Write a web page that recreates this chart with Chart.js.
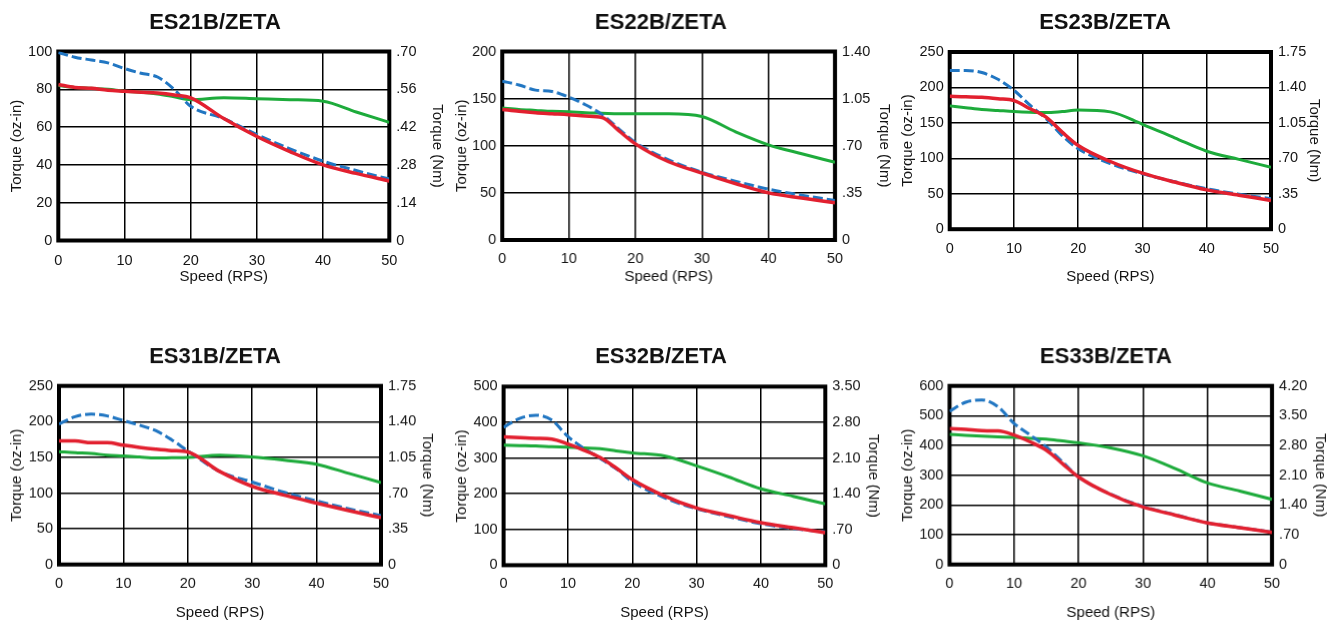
<!DOCTYPE html>
<html>
<head>
<meta charset="utf-8">
<title>ES torque curves</title>
<script src="https://cdn.jsdelivr.net/npm/chart.js@4.4.1/dist/chart.umd.min.js"></script>
<style>
  html, body { margin: 0; padding: 0; background: #fff; }
  body { width: 1339px; height: 635px; position: relative; overflow: hidden; }
  .box { position: absolute; }
</style>
</head>
<body>
<script>
// speed points (RPS) used for every curve
const speeds = [0, 2.5, 5, 7.5, 10, 12.5, 15, 17.5, 20, 25, 30, 35, 40, 45, 50];

// torque values in oz-in
const es21Blue  = [99.5, 97, 95.5, 94, 91, 88.5, 86.5, 80, 71, 64.5, 56, 48.5, 42, 37, 32.5];
const es21Red   = [82.5, 81, 80.5, 79.5, 79, 78.5, 78, 77, 75.5, 64.5, 55, 47, 40, 35.5, 31.5];
const es21Green = [82, 81, 80.5, 80, 79, 78.5, 77.5, 76, 74.5, 75.5, 75, 74.5, 73.7, 68, 62.5];

const es22Blue  = [168.5, 164.5, 159, 157.5, 151.5, 143.5, 133, 118, 103.5, 85, 72, 62.5, 54, 47.5, 42];
const es22Red   = [138.5, 136.5, 135, 134, 133, 131.5, 130, 116, 102, 83, 71, 60, 50, 44.5, 39.5];
const es22Green = [140, 138.5, 137.5, 136.5, 136, 135, 134.5, 134, 134, 134, 131, 115, 101, 91.5, 82.5];

const es23Blue  = [224, 224, 221, 211.5, 196, 175, 156, 132, 113.5, 92.5, 78, 67, 57, 49.5, 43];
const es23Red   = [187.5, 187, 186, 184, 181.5, 170, 158, 137, 118, 95.5, 79, 66.5, 55.5, 48, 40.5];
const es23Green = [174, 171.5, 169, 167.5, 166, 165, 164.5, 166, 168, 165.5, 148, 129, 110, 98.5, 87.5];

const es31Blue  = [196.5, 207, 210.5, 208, 201.5, 195, 187.5, 174.5, 159, 130, 115.5, 101, 89, 78, 68.5];
const es31Red   = [173, 173, 170.5, 170.5, 167, 164, 161.5, 159.5, 157.5, 130, 109.5, 97, 86, 75.5, 65.5];
const es31Green = [158, 156.5, 155.5, 153, 152, 150.5, 149, 149.5, 150, 153, 150.5, 146, 140.5, 127.5, 114.5];

const es32Blue  = [386, 411, 420, 406, 360, 327, 299, 270, 234, 189, 158, 136, 116, 103, 93];
const es32Red   = [359.5, 357, 355, 353, 339, 322, 301.5, 272, 240, 194, 160, 139, 119, 105, 91];
const es32Green = [336, 335, 334, 332, 330.5, 328.5, 326.5, 320, 314.5, 306, 278, 247, 214, 193, 172];

const es33Blue  = [515, 545, 553, 530, 474, 435, 395, 345, 294, 236, 195.5, 167, 140, 124, 109];
const es33Red   = [457, 454, 449.5, 449, 435, 412, 384, 339, 294, 235, 193, 166, 140, 124, 108];
const es33Green = [437, 434, 431.5, 429, 427, 424, 421, 415, 409, 392, 365, 322, 274, 247, 219];

// axis ranges and right-hand (Nm) tick labels
const ozMax  = [100, 200, 250, 250, 500, 600];
const ozStep = [20, 50, 50, 50, 100, 100];
const nmTicks = [
  [0, 0.14, 0.28, 0.42, 0.56, 0.70],
  [0, 0.35, 0.70, 1.05, 1.40],
  [0, 0.35, 0.70, 1.05, 1.40, 1.75],
  [0, 0.35, 0.70, 1.05, 1.40, 1.75],
  [0, 0.70, 1.40, 2.10, 2.80, 3.50],
  [0, 0.70, 1.40, 2.10, 2.80, 3.50, 4.20]
];
const titles = ['ES21B/ZETA', 'ES22B/ZETA', 'ES23B/ZETA', 'ES31B/ZETA', 'ES32B/ZETA', 'ES33B/ZETA'];
const blues  = [es21Blue, es22Blue, es23Blue, es31Blue, es32Blue, es33Blue];
const reds   = [es21Red, es22Red, es23Red, es31Red, es32Red, es33Red];
const greens = [es21Green, es22Green, es23Green, es31Green, es32Green, es33Green];

// where each plot sits on the page (plot rect + text centres)
const boxes = [
  {l: 58,    r: 389,    t: 51,    b: 240,   titleX: 214.7, titleY: 22.5,  ozTitleX: 17,    nmTitleX: 436.7,  tickY: 260,   xTitleY: 276.7},
  {l: 502,   r: 834,    t: 51,    b: 239.5, titleX: 660.3, titleY: 22.5,  ozTitleX: 461.7, nmTitleX: 882.7,  tickY: 258.5, xTitleY: 276.7},
  {l: 950,   r: 1271.3, t: 51.5,  b: 228.7, titleX: 1105.3,titleY: 22.5,  ozTitleX: 907.7, nmTitleX: 1314.3, tickY: 248.3, xTitleY: 276.7},
  {l: 58.7,  r: 380.7,  t: 386,   b: 564,   titleX: 214.7, titleY: 357.3, ozTitleX: 16.7,  nmTitleX: 426.7,  tickY: 583.3, xTitleY: 612},
  {l: 503.3, r: 825,    t: 386.7, b: 564.7, titleX: 660.7, titleY: 357.3, ozTitleX: 461.7, nmTitleX: 872.7,  tickY: 583.3, xTitleY: 612},
  {l: 949.3, r: 1271,   t: 386,   b: 564,   titleX: 1105.3,titleY: 357.3, ozTitleX: 907.7, nmTitleX: 1318.7, tickY: 583.3, xTitleY: 612}
];

const FONT = '"Liberation Sans", Arial, sans-serif';
const TICK_PX = 14.5;
const TITLE_PX = 15;
const HALF_TICK = TICK_PX * 1.2 / 2;
const HALF_TITLE = TITLE_PX * 1.2 / 2;
const INK = '#141414';

const BLUE = '#2176c2', RED = '#e2202f', GREEN = '#1dab3b';

// thick black frame round the plot, under the curves
const framePlugin = {
  id: 'frame',
  beforeDatasetsDraw(chart) {
    const {ctx, chartArea: a} = chart;
    ctx.save();
    ctx.lineWidth = 4;
    ctx.strokeStyle = '#000';
    ctx.strokeRect(a.left, a.top, a.right - a.left, a.bottom - a.top);
    ctx.restore();
  }
};

const pts = (vals) => speeds.map((s, i) => ({x: s, y: vals[i]}));

boxes.forEach((g, i) => {
  const right = g.r + Math.max(g.nmTitleX + 10 - g.r, 50);
  const left = 2 * g.titleX - right;
  const top = g.titleY - 20;
  const xH = g.xTitleY - g.b + 12;
  const bottom = g.b + xH;
  const lw = g.l - left, rw = right - g.r;

  const div = document.createElement('div');
  div.className = 'box';
  div.style.left = left + 'px';
  div.style.top = top + 'px';
  div.style.width = (right - left) + 'px';
  div.style.height = (bottom - top) + 'px';
  const canvas = document.createElement('canvas');
  div.appendChild(canvas);
  document.body.appendChild(div);

  const nm = nmTicks[i];
  const titlePadTop = g.titleY - top - 13.2;

  new Chart(canvas, {
    type: 'line',
    data: {
      datasets: [
        {data: pts(reds[i]), borderColor: RED, borderWidth: 3.5},
        {data: pts(blues[i]), borderColor: BLUE, borderWidth: 3, borderDash: [10, 4]},
        {data: pts(greens[i]), borderColor: GREEN, borderWidth: 3}
      ]
    },
    options: {
      responsive: true,
      maintainAspectRatio: false,
      animation: false,
      events: [],
      elements: {
        point: {radius: 0},
        line: {cubicInterpolationMode: 'monotone', fill: false}
      },
      layout: {padding: 0},
      plugins: {
        legend: {display: false},
        tooltip: {enabled: false},
        title: {
          display: true,
          text: titles[i],
          color: '#111',
          font: {family: FONT, size: 22, weight: 'bold', lineHeight: 1.2},
          padding: {top: titlePadTop, bottom: g.t - top - titlePadTop - 26.4}
        }
      },
      scales: {
        x: {
          type: 'linear',
          min: 0, max: 50,
          ticks: {stepSize: 10, color: INK, padding: g.tickY - g.b - HALF_TICK,
                  font: {family: FONT, size: TICK_PX}},
          grid: {color: '#000', lineWidth: 1.5, drawTicks: false},
          border: {display: false},
          title: {display: true, text: 'Speed (RPS)', color: INK,
                  font: {family: FONT, size: TITLE_PX, lineHeight: 1.2},
                  padding: {top: 0, bottom: xH - (g.xTitleY - g.b) - HALF_TITLE}},
          afterFit: (s) => { s.height = xH; }
        },
        y: {
          position: 'left',
          min: 0, max: ozMax[i],
          ticks: {stepSize: ozStep[i], color: INK, padding: 6,
                  font: {family: FONT, size: TICK_PX}},
          grid: {color: '#000', lineWidth: 1.5, drawTicks: false},
          border: {display: false},
          title: {display: true, text: 'Torque (oz-in)', color: INK,
                  font: {family: FONT, size: TITLE_PX, lineHeight: 1.2},
                  padding: {top: g.ozTitleX - left - HALF_TITLE, bottom: 0}},
          afterFit: (s) => { s.width = lw; }
        },
        y2: {
          position: 'right',
          min: 0, max: nm[nm.length - 1],
          afterBuildTicks: (s) => { s.ticks = nm.map(v => ({value: v})); },
          ticks: {color: INK, padding: 7,
                  font: {family: FONT, size: TICK_PX},
                  callback: (v) => v === 0 ? '0' : v.toFixed(2).replace(/^0\./, '.')},
          grid: {display: false, drawTicks: false},
          border: {display: false},
          title: {display: true, text: 'Torque (Nm)', color: INK,
                  font: {family: FONT, size: TITLE_PX, lineHeight: 1.2},
                  padding: {top: right - g.nmTitleX - HALF_TITLE, bottom: 0}},
          afterFit: (s) => { s.width = rw; }
        }
      }
    },
    plugins: [framePlugin]
  });
});
</script>
</body>
</html>
